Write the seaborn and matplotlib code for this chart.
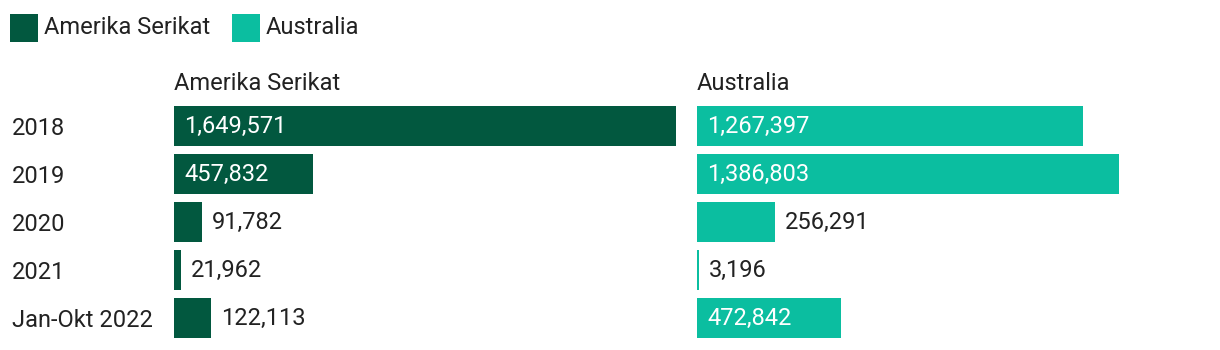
import matplotlib
matplotlib.use("Agg")
import matplotlib.pyplot as plt
import seaborn as sns
import pandas as pd
from matplotlib.patches import Rectangle

sns.set_theme(style="white")
plt.rcParams['font.family'] = ['Roboto', 'DejaVu Sans']

years = ["2018", "2019", "2020", "2021", "Jan-Okt 2022"]
usa = [1649571, 457832, 91782, 21962, 122113]
aus = [1267397, 1386803, 256291, 3196, 472842]
series_names = ["Amerika Serikat", "Australia"]
colors = ["#02583f", "#0bbea0"]

W, H = 1220, 350
fig = plt.figure(figsize=(W / 100, H / 100), dpi=100)

xmax = max(max(usa), max(aus))
fs = 17
txt = "#222222"

def fx(px):
    return px / W

def fy(py):
    return 1 - py / H

panels = [(174, usa), (697, aus)]
per_px = xmax / 502
minw = 2 * per_px
for i, (left, vals) in enumerate(panels):
    ax = fig.add_axes([fx(left), fy(342), fx(502), (342 - 102) / H])
    df = pd.DataFrame({"year": years, "value": vals})
    sns.barplot(data=df, y="year", x="value", order=years, ax=ax,
                color=colors[i], width=40 / 48, saturation=1, orient="h",
                linewidth=0)
    ax.set_xlim(0, xmax)
    ax.set_ylim(4.5, -0.5)
    ax.set_xlabel("")
    ax.set_ylabel("")
    ax.set_xticks([])
    for s in ax.spines.values():
        s.set_visible(False)
    if i == 0:
        ax.tick_params(axis="y", length=0, pad=(174 - 12) * 0.72, labelsize=fs, labelcolor=txt)
        for lab in ax.get_yticklabels():
            lab.set_horizontalalignment("left")
    else:
        ax.set_yticks([])
    ax.set_title(series_names[i], loc="left", fontsize=fs, color=txt, pad=9)
    for p in ax.patches:
        if p.get_width() < minw:
            p.set_width(minw)
    for j, v in enumerate(vals):
        label = f"{v:,}"
        if v > 300000:
            ax.text(10 * per_px, j, label, color="white", va="center", ha="left", fontsize=fs)
        else:
            ax.text(max(v, minw) + 10 * per_px, j, label, color=txt,
                    va="center", ha="left", fontsize=fs, clip_on=False)

# legend
lx = [10, 232]
for i, name in enumerate(series_names):
    fig.patches.append(Rectangle((fx(lx[i]), fy(42)), fx(28), 28 / H,
                                 transform=fig.transFigure, color=colors[i], lw=0))
    fig.text(fx(lx[i] + 34), fy(28), name, fontsize=fs, va="center", ha="left", color=txt)

fig.savefig("out.png", dpi=100)
